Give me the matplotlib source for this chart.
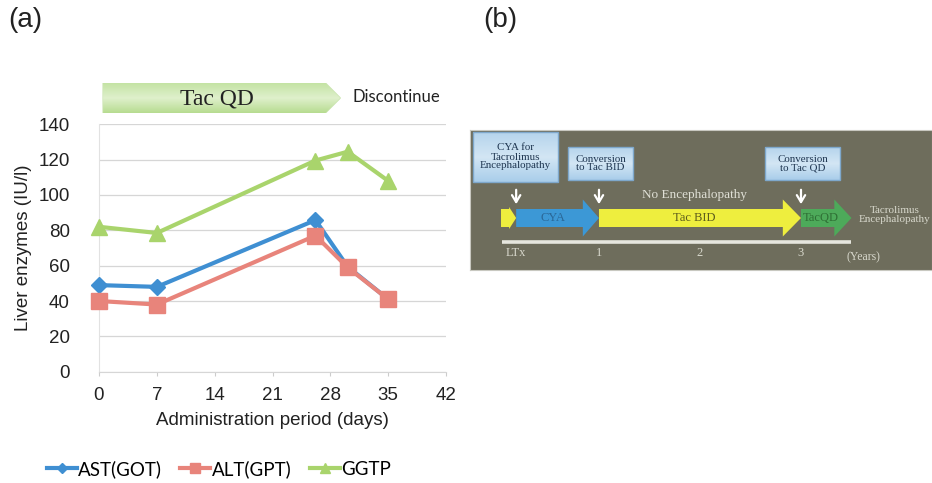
import numpy as np
import matplotlib
matplotlib.use("Agg")
import matplotlib.pyplot as plt
from matplotlib.patches import Polygon, FancyBboxPatch
from matplotlib.colors import LinearSegmentedColormap

# ---------------- data (panel a) ----------------
days_ast = [0, 7, 26.2, 30.1, 35]
ast = [49, 48, 85.8, 59.4, 41]
days_alt = [0, 7, 26.2, 30.1, 35]
alt = [40, 38, 77, 59, 41]
days_ggtp = [0, 7, 26.2, 30.1, 35]
ggtp = [82, 78.5, 119.5, 124.5, 108]
xticks = [0, 7, 14, 21, 28, 35, 42]
yticks = [0, 20, 40, 60, 80, 100, 120, 140]
series_names = ["AST(GOT)", "ALT(GPT)", "GGTP"]
tac_period = (0.5, 29.2)   # days of Tac QD arrow

# ---------------- data (panel b) ----------------
phase_names = ["", "CYA", "Tac BID", "TacQD"]
phase_start = [0.03, 0.18, 1.0, 3.0]
phase_end = [0.18, 1.0, 3.0, 3.5]
event_years = [0.18, 1.0, 3.0]
event_labels = ["CYA for\nTacrolimus\nEncephalopathy", "Conversion\nto Tac BID", "Conversion\nto Tac QD"]
year_ticks = [0, 1, 2, 3]
year_labels = ["LTx", "1", "2", "3"]

W, H = 932, 483
fig = plt.figure(figsize=(W / 100, H / 100), dpi=100)
fig.patch.set_facecolor("white")

sans = ["Liberation Sans", "DejaVu Sans"]
cal = ["Lato", "DejaVu Sans"]
serif = ["Liberation Serif", "DejaVu Serif"]

def fx(px):
    return px / W

def fy(py):
    return 1 - py / H

# ---------------- panel (a) ----------------
ax = fig.add_axes([fx(99), fy(371.7), fx(446) - fx(99), fy(124.3) - fy(371.7)])
ax.set_xlim(0, 42)
ax.set_ylim(0, 140)
ax.set_xticks(xticks)
ax.set_yticks(yticks)
ax.grid(axis="y", color="#d6d6d6", lw=0.9)
for s in ["top", "right"]:
    ax.spines[s].set_visible(False)
ax.spines["left"].set_color("#e2e2e2")
ax.spines["bottom"].set_color("#d6d6d6")
ax.tick_params(axis="both", length=3, color="#cccccc", labelsize=13.5, labelcolor="#222222")
ax.tick_params(axis="y", pad=21, length=0)
ax.tick_params(axis="x", pad=8)
for lab in ax.get_xticklabels() + ax.get_yticklabels():
    lab.set_family(sans)
ax.set_xlabel("Administration period (days)", fontsize=13.5, family=sans, color="#222222", labelpad=6)
ax.set_ylabel("Liver enzymes (IU/l)", fontsize=13.5, family=sans, color="#222222", labelpad=5)

c_ast, c_alt, c_gg = "#3f8fd2", "#e8847b", "#a9d46c"
l_gg, = ax.plot(days_ggtp, ggtp, color=c_gg, lw=3, marker="^", ms=11, clip_on=False, zorder=3)
l_ast, = ax.plot(days_ast, ast, color=c_ast, lw=3, marker="D", ms=8, clip_on=False, zorder=4)
l_alt, = ax.plot(days_alt, alt, color=c_alt, lw=3, marker="s", ms=12, clip_on=False, zorder=5)

fig.legend([l_ast, l_alt, l_gg], series_names, loc="center", bbox_to_anchor=(fx(219), fy(469)),
           ncol=3, frameon=False, handlelength=1.6, handletextpad=0.1, columnspacing=0.95,
           prop={"family": cal, "size": 13.5}, markerscale=0.6)

# Tac QD arrow
axt = fig.add_axes([fx(99), fy(113), fx(446) - fx(99), fy(83) - fy(113)])
axt.set_xlim(0, 42)
axt.set_ylim(0, 1)
axt.axis("off")
x0, x1 = tac_period
hx = x1 - 1.8
poly = Polygon([[x0, 0], [hx, 0], [x1, 0.5], [hx, 1], [x0, 1]], closed=True,
               facecolor="none", edgecolor="#c9e4ae", lw=1)
axt.add_patch(poly)
grad = np.linspace(0, 1, 100).reshape(-1, 1)
cm = LinearSegmentedColormap.from_list("g", ["#b7dc90", "#dff0cc", "#c4e3a4"])
im = axt.imshow(grad, extent=[x0, x1, 0, 1], aspect="auto", cmap=cm, origin="lower", zorder=1)
im.set_clip_path(poly)
axt.text((x0 + hx) / 2 + 0.3, 0.48, "Tac QD", ha="center", va="center", fontsize=17, family=serif,
         color="#222222", zorder=3)
fig.text(fx(352), fy(97), "Discontinue", ha="left", va="center", fontsize=12, family=cal, color="#222222")

fig.text(fx(8), fy(20), "(a)", ha="left", va="center", fontsize=20, family=sans, color="#222222")
fig.text(fx(483), fy(20), "(b)", ha="left", va="center", fontsize=20, family=sans, color="#222222")

# ---------------- panel (b) ----------------
axb = fig.add_axes([fx(470), fy(270), fx(932) - fx(470), fy(130) - fy(270)])
axb.set_facecolor("#6e6d5c")
axb.set_xticks([])
axb.set_yticks([])
for s in axb.spines.values():
    s.set_color("#c8c8c0")
    s.set_linewidth(0.8)

phase_colors = ["#eeee3e", "#3c98d6", "#eeee3e", "#4daa5a"]
text_colors = ["#000000", "#2a6797", "#5d5c1c", "#2e6e34"]
headlens = [0.07, 0.16, 0.18, 0.17]
ymid, bh, hh = 218, 9, 18.5
for name, s0, s1, col, tc, hl in zip(phase_names, phase_start, phase_end, phase_colors, text_colors, headlens):
    h = hh if name else 11
    b = bh if name else 9
    pts = [[s0, ymid - b], [s1 - hl, ymid - b], [s1 - hl, ymid - h], [s1, ymid],
           [s1 - hl, ymid + h], [s1 - hl, ymid + b], [s0, ymid + b]]
    axb.add_patch(Polygon(pts, closed=True, facecolor=col, edgecolor="none", zorder=2))
    if name:
        axb.text((s0 + s1 - hl) / 2 + 0.03, ymid + 0.5, name, ha="center", va="center",
                 fontsize=9, family=serif, color=tc, zorder=3)

box_geo = [(473, 558, 132, 182), (568, 633, 147, 180), (765, 840, 147, 180)]
bcm = LinearSegmentedColormap.from_list("b", ["#a9cdea", "#d3e6f4", "#b5d4ec"])
for ev, lab, (bx0, bx1, by0, by1) in zip(event_years, event_labels, box_geo):
    x0y = (bx0 - 498) / 101.0
    x1y = (bx1 - 498) / 101.0
    bp = FancyBboxPatch((x0y, by0), x1y - x0y, by1 - by0, boxstyle="square,pad=0",
                        facecolor="none", edgecolor="#7ea8cc", lw=1, zorder=3)
    axb.add_patch(bp)
    bim = axb.imshow(grad, extent=[x0y, x1y, by1, by0], aspect="auto", cmap=bcm, origin="lower", zorder=2)
    bim.set_clip_path(bp)
    axb.text((x0y + x1y) / 2, (by0 + by1) / 2, lab, ha="center", va="center", fontsize=7.9,
             family=serif, color="#1e3550", linespacing=1.0, zorder=4)
    axb.annotate("", xy=(ev, 207), xytext=(ev, 187),
                 arrowprops=dict(arrowstyle="->,head_length=0.5,head_width=0.3", color="white", lw=1.6),
                 zorder=4)
axb.set_xlim(-0.277, 4.297)
axb.set_ylim(270, 130)

axb.text(1.95, 195, "No Encephalopathy", ha="center", va="center", fontsize=9.5, family=serif,
         color="#e0e0d6")
axb.text(3.93, 215, "Tacrolimus\nEncephalopathy", ha="center", va="center", fontsize=8, family=serif,
         color="#d8d8cc", linespacing=1.1)
axb.plot([0.04, 3.5], [242, 242], color="#e6e6de", lw=2.6, solid_capstyle="butt")
for yv, yl in zip(year_ticks, year_labels):
    if yl == "LTx":
        axb.text(0.08, 253, yl, ha="left", va="center", fontsize=9, family=serif, color="#d8d8cc")
    else:
        axb.text(yv, 253, yl, ha="center", va="center", fontsize=9, family=serif, color="#d8d8cc")
axb.text(3.62, 257, "(Years)", ha="center", va="center", fontsize=8.5, family=serif, color="#d8d8cc")

fig.savefig("out.png", dpi=100, facecolor="white")
